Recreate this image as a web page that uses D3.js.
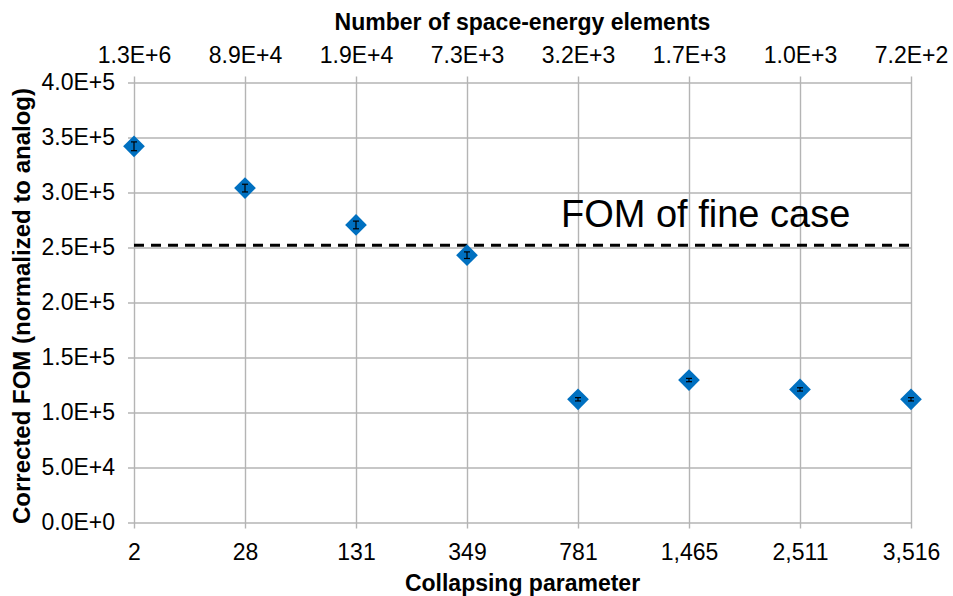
<!DOCTYPE html>
<html>
<head>
<meta charset="utf-8">
<script src="https://cdn.jsdelivr.net/npm/d3@7"></script>
<style>
  html, body { margin: 0; padding: 0; background: #fff; }
  svg { display: block; font-family: "Liberation Sans", Arial, sans-serif; }
</style>
</head>
<body>
<svg id="chart" width="953" height="596"></svg>
<script>
// Collapsing parameter (bottom axis categories)
const categories = ["2", "28", "131", "349", "781", "1,465", "2,511", "3,516"];
// Number of space-energy elements for each collapsing parameter (top axis)
const elementLabels = ["1.3E+6", "8.9E+4", "1.9E+4", "7.3E+3", "3.2E+3", "1.7E+3", "1.0E+3", "7.2E+2"];
// Corrected FOM normalized to analog, with its uncertainty
const fomValues = [342000, 304000, 270500, 243000, 112000, 129500, 121000, 112000];
const fomErrors = [4000, 3500, 3500, 3000, 1500, 1500, 1500, 1500];
// FOM of the fine (uncollapsed) case
const fineCaseFom = 252000;
// Value-axis ticks and their labels
const yTickValues = [0, 50000, 100000, 150000, 200000, 250000, 300000, 350000, 400000];
const yTickLabels = ["0.0E+0", "5.0E+4", "1.0E+5", "1.5E+5", "2.0E+5", "2.5E+5", "3.0E+5", "3.5E+5", "4.0E+5"];

const svg = d3.select("#chart");
const plotLeft = 134, plotRight = 911, plotTop = 82.5, plotBottom = 522.5;
const tickOut = 6;
const gridColor = "#b4b4b4";

const x = d3.scalePoint().domain(categories).range([plotLeft, plotRight]).padding(0);
const y = d3.scaleLinear().domain([0, 400000]).range([plotBottom, plotTop]);

// Horizontal grid lines with outward ticks and value labels
const yAxis = svg.append("g")
  .attr("transform", `translate(${plotRight},0)`)
  .call(d3.axisLeft(y)
    .tickValues(yTickValues)
    .tickSize(plotRight - plotLeft + tickOut)
    .tickPadding(13)
    .tickFormat((d, i) => yTickLabels[i]));
yAxis.select(".domain").remove();

// Vertical grid lines with outward ticks and category labels
const xAxis = svg.append("g")
  .attr("transform", `translate(0,${plotTop - tickOut})`)
  .call(d3.axisBottom(x)
    .tickSize(plotBottom - plotTop + 2 * tickOut)
    .tickPadding(15));
xAxis.select(".domain").remove();

// Secondary top labels: number of space-energy elements
const topAxis = svg.append("g")
  .attr("transform", `translate(0,${plotTop - tickOut})`)
  .call(d3.axisTop(x)
    .tickSize(0)
    .tickPadding(14)
    .tickFormat((d, i) => elementLabels[i]));
topAxis.select(".domain").remove();

svg.selectAll(".tick line").attr("stroke", gridColor).attr("stroke-width", 1.4);
svg.selectAll(".tick text")
  .attr("fill", "#000")
  .style("font-size", "23px")
  .style("font-family", "'Liberation Sans', Arial, sans-serif");

// Reference line for the fine case
svg.append("line")
  .attr("x1", plotLeft).attr("x2", plotRight)
  .attr("y1", y(fineCaseFom)).attr("y2", y(fineCaseFom))
  .attr("stroke", "#000")
  .attr("stroke-width", 3)
  .attr("stroke-dasharray", "10,7");

svg.append("text")
  .attr("x", 561).attr("y", 227)
  .style("font-size", "38px")
  .attr("fill", "#000")
  .text("FOM of fine case");

// Diamond markers
const points = categories.map((c, i) => ({ c, v: fomValues[i], e: fomErrors[i] }));
svg.append("g").selectAll("path")
  .data(points)
  .join("path")
  .attr("d", d3.symbol(d3.symbolDiamond2, 300))
  .attr("transform", d => `translate(${x(d.c)},${y(d.v)})`)
  .attr("fill", "#0070c0");

// Error bars
const eb = svg.append("g").attr("stroke", "#000").attr("stroke-width", 1.2);
eb.selectAll("line.v").data(points).join("line").attr("class", "v")
  .attr("x1", d => x(d.c)).attr("x2", d => x(d.c))
  .attr("y1", d => y(d.v - d.e)).attr("y2", d => y(d.v + d.e));
eb.selectAll("line.lo").data(points).join("line").attr("class", "lo")
  .attr("x1", d => x(d.c) - 3).attr("x2", d => x(d.c) + 3)
  .attr("y1", d => y(d.v - d.e)).attr("y2", d => y(d.v - d.e));
eb.selectAll("line.hi").data(points).join("line").attr("class", "hi")
  .attr("x1", d => x(d.c) - 3).attr("x2", d => x(d.c) + 3)
  .attr("y1", d => y(d.v + d.e)).attr("y2", d => y(d.v + d.e));

// Axis titles
svg.append("text")
  .attr("x", (plotLeft + plotRight) / 2).attr("y", 30)
  .attr("text-anchor", "middle")
  .style("font-size", "23px").style("font-weight", "bold")
  .text("Number of space-energy elements");

svg.append("text")
  .attr("x", (plotLeft + plotRight) / 2).attr("y", 591)
  .attr("text-anchor", "middle")
  .style("font-size", "23px").style("font-weight", "bold")
  .text("Collapsing parameter");

svg.append("text")
  .attr("transform", "translate(30,306) rotate(-90)")
  .attr("text-anchor", "middle")
  .style("font-size", "24px").style("font-weight", "bold")
  .text("Corrected FOM (normalized to analog)");
</script>
</body>
</html>
